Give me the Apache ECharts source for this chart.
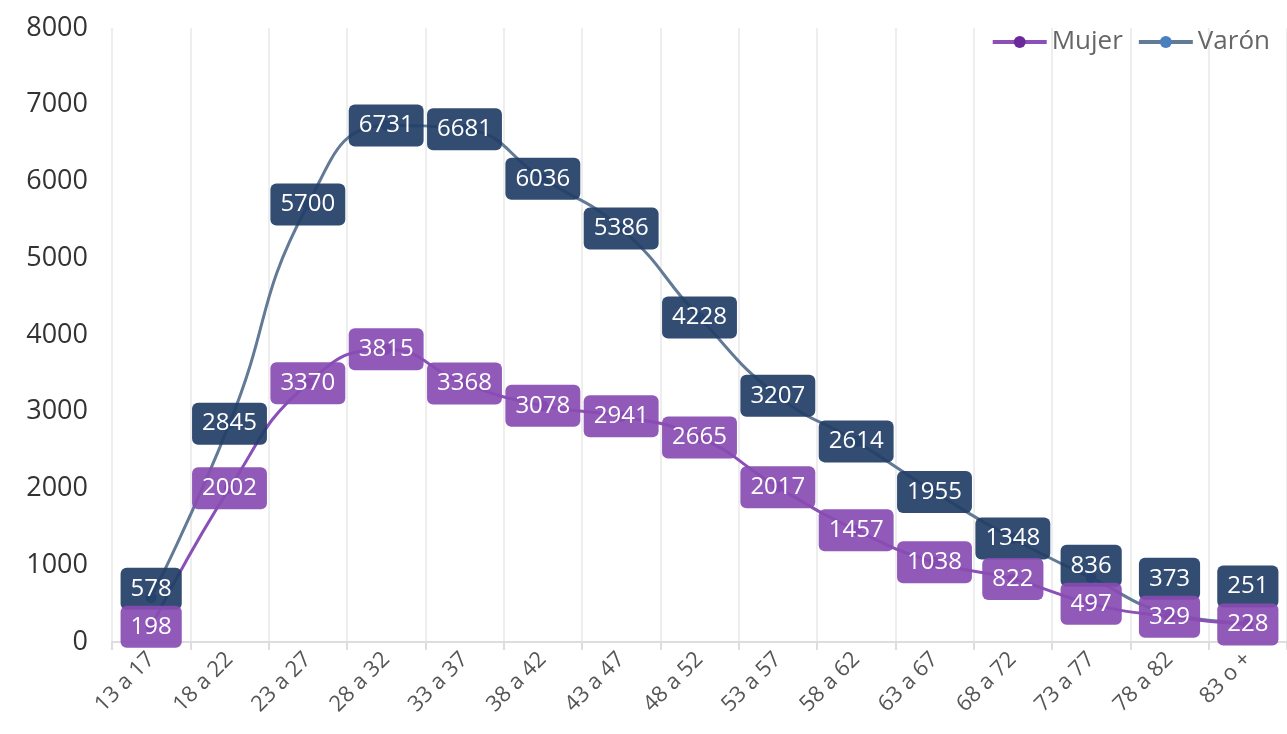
<!DOCTYPE html>
<html>
<head>
<meta charset="utf-8">
<script src="https://cdn.jsdelivr.net/npm/echarts@6/dist/echarts.min.js"></script>
<style>
  html, body { margin: 0; padding: 0; background: #fff; }
  #chart { width: 1287px; height: 734px; }
</style>
</head>
<body>
<div id="chart"></div>
<script>
const categories = ['13 a 17', '18 a 22', '23 a 27', '28 a 32', '33 a 37', '38 a 42', '43 a 47',
  '48 a 52', '53 a 57', '58 a 62', '63 a 67', '68 a 72', '73 a 77', '78 a 82', '83 o +']
const mujer = [198, 2002, 3370, 3815, 3368, 3078, 2941, 2665, 2017, 1457, 1038, 822, 497, 329, 228]
const varon = [578, 2845, 5700, 6731, 6681, 6036, 5386, 4228, 3207, 2614, 1955, 1348, 836, 373, 251]

const font = '"Open Sans", "Noto Sans", sans-serif'

const makeSeries = (name, data, lineColor, dotColor, boxColor) => ({
  name,
  type: 'line',
  data,
  smooth: true,
  symbol: 'circle',
  symbolSize: 11,
  lineStyle: { color: lineColor, width: 3 },
  itemStyle: { color: dotColor },
  label: {
    show: true,
    position: 'inside',
    color: '#fff',
    fontFamily: font,
    fontSize: 24,
    backgroundColor: boxColor,
    borderRadius: 6,
    padding: [10, 10, 8, 10]
  }
})

const chart = echarts.init(document.getElementById('chart'))
const option = {
  animation: false,
  textStyle: { fontFamily: font },
  legend: {
    top: 24,
    right: 12,
    itemWidth: 54,
    itemHeight: 15,
    itemGap: 14,
    lineStyle: { width: 4 },
    textStyle: { fontSize: 26, color: '#666', fontFamily: font },
    data: ['Mujer', 'Varón']
  },
  grid: { left: 112, top: 28, bottom: 92, width: 1185, containLabel: false },
  xAxis: {
    type: 'category',
    data: categories,
    boundaryGap: true,
    axisLine: { lineStyle: { color: '#ddd', width: 2 } },
    axisTick: { show: true, length: 8, lineStyle: { color: '#ddd', width: 2 } },
    splitLine: { show: true, lineStyle: { color: '#eee', width: 2 } },
    axisLabel: { rotate: 45, fontSize: 22, color: '#555', margin: 14, fontFamily: font }
  },
  yAxis: {
    type: 'value',
    min: 0,
    max: 8000,
    interval: 1000,
    axisLine: { show: false },
    axisTick: { show: false },
    splitLine: { show: false },
    axisLabel: { fontSize: 27, color: '#333', margin: 24, fontFamily: font, formatter: v => String(v) }
  },
  series: [
    makeSeries('Varón', varon, '#627a96', '#4a80c0', 'rgba(34,62,102,0.92)'),
    makeSeries('Mujer', mujer, '#8a50b8', '#6a2a9c', 'rgba(136,76,178,0.92)')
  ]
}
chart.setOption(option)

// push Varón labels up where they would sit on top of the Mujer ones
const minGap = 38
const varonData = varon.map((v, i) => {
  const yV = chart.convertToPixel({ seriesIndex: 0 }, [i, v])[1]
  const yM = chart.convertToPixel({ seriesIndex: 1 }, [i, mujer[i]])[1]
  const shift = yM - yV < minGap ? minGap - (yM - yV) : 0
  return shift ? { value: v, label: { offset: [0, -shift] } } : v
})
chart.setOption({ series: [{ data: varonData }] })
</script>
</body>
</html>
